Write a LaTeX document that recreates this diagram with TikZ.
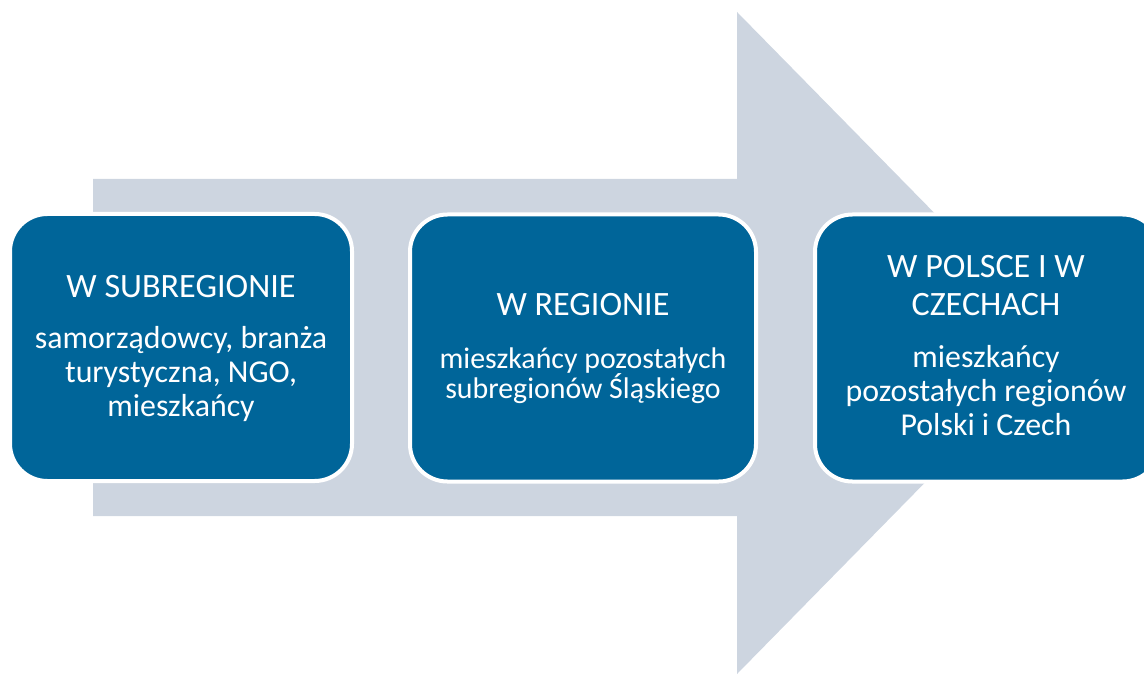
\documentclass[tikz,border=0pt]{standalone}
\usepackage{fontspec}
\setmainfont{Carlito}
\definecolor{arrowgray}{RGB}{205,213,224}
\definecolor{boxblue}{RGB}{0,101,153}
\begin{document}
\begin{tikzpicture}
			[x=0.75pt,y=-0.75pt,
			box/.style={rectangle,rounded corners=28pt,draw=white,line width=3pt,fill=boxblue,inner sep=0pt,minimum height=200.25pt},
			head/.style={text=white,align=center,anchor=base,inner sep=0pt,font=\fontsize{25.6}{28.5}\selectfont},
			body/.style={text=white,align=center,anchor=base,inner sep=0pt,font=\fontsize{23.9}{25.5}\selectfont}]
			\useasboundingbox (0,0) rectangle (1144,677);
			\clip (0,0) rectangle (1144,677);
			% big arrow behind the boxes
			\fill[arrowgray] (93,179)--(737,179)--(737,12)--(1062,343)--(737,674)--(737,516)--(93,516)--cycle;
			\node[box,minimum width=256.5pt,name=1]at(181,347.5){};
			\node[box,minimum width=259.5pt,name=2]at(583,348){};
			\node[box,minimum width=258.75pt,name=3]at(987.5,348){};
			% base of a node with several lines = its last line
			\node[head,name=h1]at(181,297){W SUBREGIONIE};
			\node[body,name=s1]at(181,416){samorządowcy, branża\\turystyczna, NGO,\\mieszkańcy};
			\node[head,name=h2]at(583,315){W REGIONIE};
			\node[body,font=\fontsize{22.4}{22.5}\selectfont,name=s2]at(583,398){mieszkańcy pozostałych\\subregionów Śląskiego};
			\node[head,name=h3]at(986,315){W POLSCE I W\\CZECHACH};
			\node[body,name=s3]at(986,435){mieszkańcy\\pozostałych regionów\\Polski i Czech};
		\end{tikzpicture}
\end{document}
